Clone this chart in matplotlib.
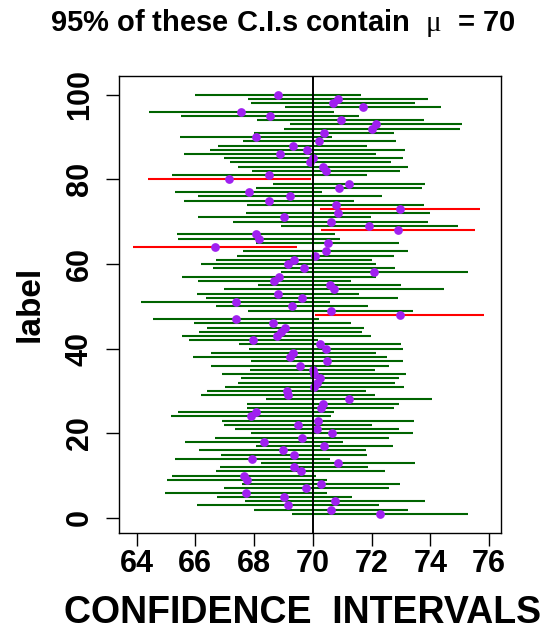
import matplotlib
matplotlib.use("Agg")
import matplotlib.pyplot as plt
import numpy as np

plt.rcParams['font.family'] = ['Liberation Sans', 'DejaVu Sans']
plt.rcParams['mathtext.fontset'] = 'custom'
plt.rcParams['mathtext.rm'] = 'Liberation Serif'

MU = 70
# one row per interval, from 1 (bottom) to 100 (top)
lower = [69.28, 67.99, 66.06, 67.68, 66.72, 64.97, 66.96, 67.59, 65.02, 65.21,
         66.70, 66.84, 68.24, 65.31, 66.89, 66.14, 68.05, 65.65, 66.68, 67.90,
         67.34, 66.98, 66.92, 65.16, 65.42, 67.77, 67.75, 68.42, 66.18, 66.40,
         67.01, 67.46, 67.54, 66.92, 67.86, 66.53, 67.89, 65.91, 66.54, 67.81,
         67.50, 65.79, 65.56, 66.14, 66.38, 65.97, 64.56, 70.09, 67.79, 66.69,
         64.16, 66.35, 66.06, 66.98, 68.12, 66.09, 65.56, 68.90, 66.60, 66.19,
         66.69, 67.42, 67.62, 63.88, 68.08, 65.42, 65.38, 70.29, 68.90, 67.28,
         66.08, 67.74, 70.23, 67.77, 65.62, 66.08, 65.31, 68.07, 68.64, 64.37,
         65.21, 67.94, 67.46, 67.18, 66.97, 65.62, 66.50, 66.77, 67.62, 65.47,
         68.00, 69.01, 69.24, 68.09, 65.51, 64.42, 69.07, 67.90, 67.80, 65.98]
upper = [75.29, 73.24, 72.24, 73.83, 71.32, 70.47, 72.60, 72.97, 70.47, 70.10,
         72.47, 71.89, 73.48, 70.58, 71.83, 71.81, 72.73, 71.02, 72.60, 73.41,
         72.95, 72.01, 73.46, 70.62, 70.73, 72.76, 72.92, 74.07, 72.12, 71.81,
         73.10, 72.81, 72.93, 73.19, 72.12, 72.59, 73.07, 72.54, 72.14, 73.06,
         73.02, 70.17, 71.99, 71.69, 71.73, 71.29, 70.21, 75.83, 73.42, 71.89,
         70.58, 72.90, 71.56, 74.46, 73.02, 71.29, 72.14, 75.27, 72.79, 72.14,
         72.02, 72.75, 73.25, 69.46, 72.95, 70.92, 70.75, 75.54, 74.95, 73.94,
         71.99, 73.99, 75.68, 73.80, 71.41, 72.34, 70.33, 73.73, 73.82, 69.94,
         71.84, 72.97, 73.25, 72.66, 73.07, 72.16, 73.13, 71.85, 72.82, 70.66,
         72.77, 75.02, 75.08, 73.80, 71.59, 70.71, 74.35, 73.48, 73.93, 71.63]

lower = np.array(lower)
upper = np.array(upper)
means = (lower + upper) / 2
label = np.arange(1, len(lower) + 1)
misses = (lower > MU) | (upper < MU)
colores = np.where(misses, 'red', 'darkgreen')

fig = plt.figure(figsize=(5.5, 6.34), dpi=100)
ax = fig.add_axes([0.2164, 0.1598, 0.694, 0.7208])

ax.hlines(label, lower, upper, colors=colores, linewidth=1.5)
ax.plot(means, label, 'o', color='#A020F0', markersize=6.3, markeredgewidth=0)
ax.axvline(MU, color='black', linewidth=1.4)

ax.set_xlim(63.4, 76.4)
ax.set_ylim(-3.47, 104.49)
ax.set_xticks(np.arange(64, 77, 2))
ax.set_yticks(np.arange(0, 101, 20))
for s in ax.spines.values():
    s.set_linewidth(1.0)
ax.tick_params(direction='out', length=9.5, width=1.0, labelsize=22)
ax.tick_params(axis='x', pad=2)
ax.tick_params(axis='y', pad=8)
for t in ax.get_xticklabels() + ax.get_yticklabels():
    t.set_fontweight('bold')
for t in ax.get_yticklabels():
    t.set_rotation(90)
    t.set_va('center')

ax.set_xlabel('CONFIDENCE  INTERVALS', fontsize=27, fontweight='bold')
ax.xaxis.set_label_coords(0.482, -0.137)
ax.set_ylabel('label', fontsize=24, fontweight='bold', labelpad=14)
ax.set_title(r'95% of these C.I.s contain  $\mathrm{\mu}$  = 70', fontsize=21,
             fontweight='bold', x=0.43, pad=32)

fig.savefig('out.png', dpi=100)
